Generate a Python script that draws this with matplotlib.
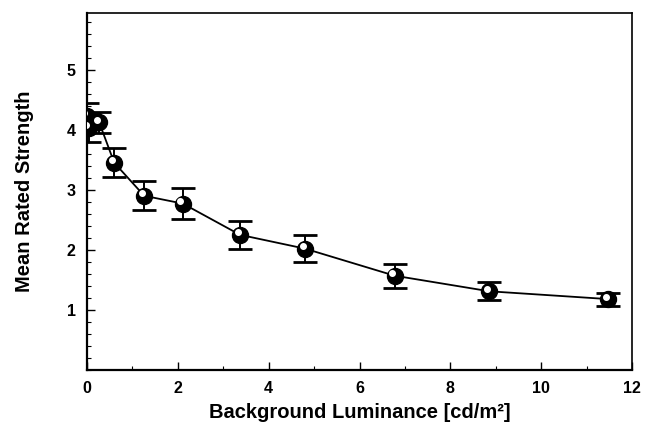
import matplotlib

matplotlib.use("Agg")
import matplotlib.pyplot as plt
import matplotlib.transforms as mtransforms
from matplotlib.ticker import MultipleLocator

plt.rcParams["font.family"] = ["Liberation Sans", "DejaVu Sans"]
plt.rcParams["font.weight"] = "bold"

# values
luminance = [0.0, 0.04, 0.27, 0.60, 1.26, 2.11, 3.37, 4.80, 6.77, 8.86, 11.48]
strength = [4.23, 4.03, 4.12, 3.45, 2.90, 2.77, 2.25, 2.02, 1.57, 1.31, 1.18]
err = [0.21, 0.23, 0.18, 0.24, 0.24, 0.26, 0.23, 0.22, 0.20, 0.15, 0.11]

x_ticks = [0, 2, 4, 6, 8, 10, 12]
y_ticks = [1, 2, 3, 4, 5]

fig = plt.figure(figsize=(6.51, 4.23), dpi=100)
ax = fig.add_axes([0.1336, 0.1253, 0.8374, 0.845])

ax.errorbar(luminance, strength, yerr=err, fmt="none", ecolor="black",
            elinewidth=1.4, capsize=8.5, capthick=2.0, zorder=2)
ax.plot(luminance, strength, color="black", linewidth=1.3, zorder=3)
ax.plot(luminance, strength, "o", color="black", markersize=11.5, zorder=4)
# shiny highlight on each ball
hl = mtransforms.offset_copy(ax.transData, fig=fig, x=-1.8, y=1.8, units="points")
ax.plot(luminance, strength, "o", color="white", markersize=4,
        transform=hl, zorder=5)

ax.set_xlim(0, 12)
ax.set_ylim(0, 5.95)
ax.set_xticks(x_ticks)
ax.set_yticks(y_ticks)
ax.xaxis.set_minor_locator(MultipleLocator(1))
ax.yaxis.set_minor_locator(MultipleLocator(0.2))
ax.tick_params(which="major", direction="in", length=6, width=1, labelsize=11.5)
ax.tick_params(axis="x", which="major", pad=8)
ax.tick_params(axis="y", which="major", pad=8)
ax.tick_params(which="minor", direction="in", length=3, width=0.8)
ax.tick_params(axis="x", which="both", top=False)
ax.tick_params(axis="y", which="both", right=False)
for lab in ax.get_xticklabels() + ax.get_yticklabels():
    lab.set_fontweight("bold")

for side in ["left", "bottom"]:
    ax.spines[side].set_linewidth(1.6)
for side in ["top", "right"]:
    ax.spines[side].set_linewidth(1.2)

ax.set_xlabel("Background Luminance [cd/m²]", fontsize=14.5, fontweight="bold", labelpad=5)
ax.set_ylabel("Mean Rated Strength", fontsize=14.5, fontweight="bold", labelpad=24)

fig.savefig("out.png", dpi=100)
